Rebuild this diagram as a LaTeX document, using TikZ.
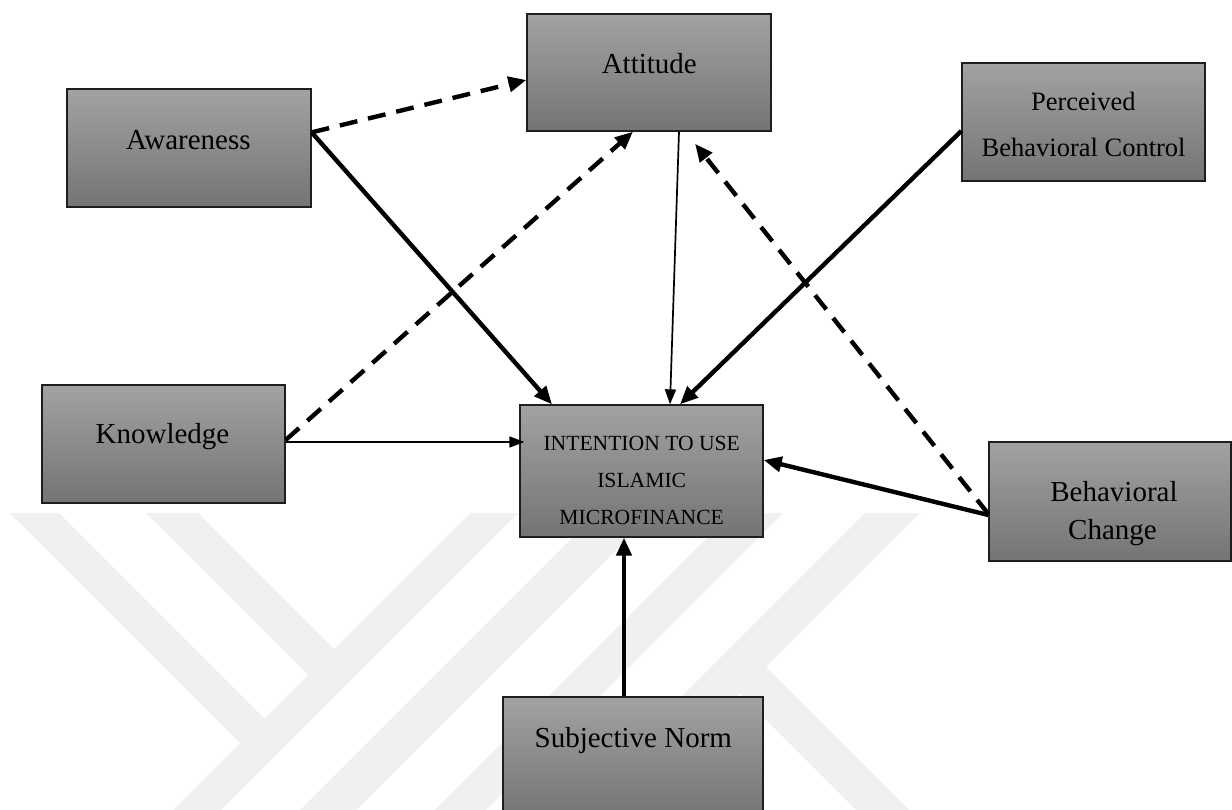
\documentclass[tikz,border=0pt]{standalone}
\usepackage{fontspec}
\setmainfont{Liberation Serif}
\usetikzlibrary{arrows.meta}
\definecolor{boxtop}{RGB}{162,162,162}
\definecolor{boxbot}{RGB}{116,116,116}
\definecolor{boxline}{RGB}{30,30,30}
\definecolor{wm}{RGB}{240,240,240}
\begin{document}
\begin{tikzpicture}[x=1pt,y=-1pt,
  box/.style={draw=boxline, line width=1.3pt, top color=boxtop, bottom color=boxbot,
    inner sep=0pt, minimum width=243pt, minimum height=118pt},
  lbl/.style={font=\fontsize{29}{34}\selectfont, inner sep=0pt, anchor=base},
  lblmid/.style={font=\fontsize{26.5}{31}\selectfont, inner sep=0pt, anchor=base},
  lblsmall/.style={font=\fontsize{21.6}{26}\selectfont, inner sep=0pt, anchor=base},
  thickarrow/.style={line width=4.4pt, -{Triangle[length=18pt,width=15pt]}},
  thinarrow/.style={line width=1.7pt, -{Triangle[length=15pt,width=11pt]}},
  dasharrow/.style={thickarrow, dash pattern=on 18pt off 11pt}]

\useasboundingbox (0,0) rectangle (1232,810);
\fill[white] (0,0) rectangle (1232,810);
\clip (0,0) rectangle (1232,810);

% faint striped emblem in the background
\begin{scope}[wm]
  \fill (470.5,513) -- (518,513) -- (219,812) -- (171.5,812) -- cycle;
  \fill (10,513) -- (59,513) -- (276.6,730.6) -- (252,755) -- cycle;
  \fill (146,513) -- (198,513) -- (346,661) -- (320,687) -- cycle;
  \fill (597,513) -- (653,513) -- (354,812) -- (298,812) -- cycle;
  \fill (732,513) -- (783,513) -- (484,812) -- (433,812) -- cycle;
  \fill (865,513) -- (920,513) -- (621,812) -- (566,812) -- cycle;
  \fill (752.25,653.25) -- (911,812) -- (858,812) -- (725.75,679.75) -- cycle;
\end{scope}

% construct boxes
\node[box, minimum width=244pt] (aw) at (189,148) {};
\node[box, minimum width=244pt, minimum height=117pt] (att) at (649,72.5) {};
\node[box] (pbc) at (1083.5,122) {};
\node[box] (kn) at (163.5,444) {};
\node[box, minimum height=132pt] (int) at (641.5,471) {};
\node[box, minimum width=242pt, minimum height=119pt] (bc) at (1110,501.5) {};
\node[box, minimum width=260pt, minimum height=121pt] (sn) at (633,757.5) {};

% box captions
\node[lbl] (aw-t) at (188.3,150) {Awareness};
\node[lbl] (att-t) at (649.3,74) {Attitude};
\node[lblmid] (pbc-t1) at (1083.3,111) {Perceived};
\node[lblmid] (pbc-t2) at (1083.6,156.7) {Behavioral Control};
\node[lbl] (kn-t) at (162.5,443.3) {Knowledge};
\node[lblsmall] (int-t1) at (641.7,450) {INTENTION TO USE};
\node[lblsmall] (int-t2) at (641.7,487) {ISLAMIC};
\node[lblsmall] (int-t3) at (641.7,524) {MICROFINANCE};
\node[lbl] (bc-t1) at (1114,501.7) {Behavioral};
\node[lbl] (bc-t2) at (1112.5,539) {Change};
\node[lbl] (sn-t) at (633.3,747) {Subjective Norm};

% relations
\draw[dasharrow] ([yshift=-44pt]aw.north east) -- ([yshift=-7.5pt]att.west);
\draw[thickarrow] ([yshift=-44pt]aw.north east) -- ([xshift=-89.5pt]int.north);
\draw[dasharrow] ([yshift=4pt]kn.east) -- ([xshift=-16pt]att.south);
\draw[thinarrow] ([yshift=2pt]kn.east) -- ([yshift=29pt,xshift=5pt]int.west);
\draw[thinarrow] ([xshift=30pt]att.south) -- ([xshift=28.5pt]int.north);
\draw[thickarrow] ([yshift=-9pt]pbc.west) -- ([xshift=38.5pt]int.north);
\draw[dasharrow] ([yshift=-12.5pt]bc.west) -- ([xshift=46pt,yshift=-12pt]att.south);
\draw[thickarrow] ([yshift=-13.5pt]bc.west) -- ([yshift=11pt]int.east);
\draw[thickarrow] ([xshift=-9pt]sn.north) -- ([xshift=-17.5pt]int.south);
\end{tikzpicture}
\end{document}
